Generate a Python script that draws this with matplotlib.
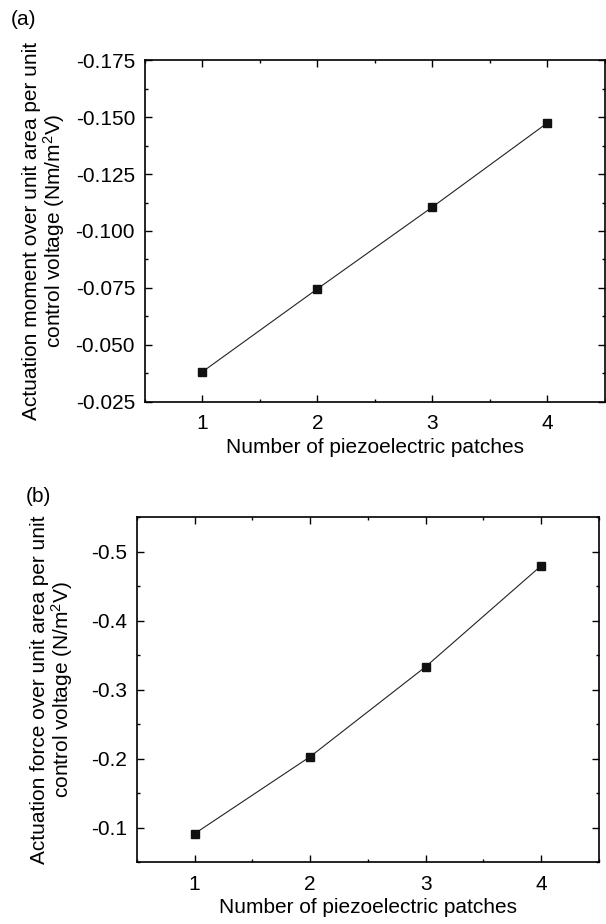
import matplotlib.pyplot as plt
from matplotlib.ticker import MultipleLocator, FormatStrFormatter

plt.rcParams["font.family"] = ["Liberation Sans", "DejaVu Sans"]
plt.rcParams["font.size"] = 15
plt.rcParams["mathtext.default"] = "regular"

patches = [1, 2, 3, 4]
moment = [-0.0382, -0.0746, -0.1105, -0.1474]
force = [-0.0913, -0.2029, -0.3333, -0.4797]

moment_label = "Actuation moment over unit area per unit\ncontrol voltage (Nm/m$^{2}$V)"
force_label = "Actuation force over unit area per unit\ncontrol voltage (N/m$^{2}$V)"
x_label = "Number of piezoelectric patches"


def style_axes(ax, major, minor, fmt):
    ax.set_xlim(0.5, 4.5)
    ax.xaxis.set_major_locator(MultipleLocator(1))
    ax.xaxis.set_minor_locator(MultipleLocator(0.5))
    ax.yaxis.set_major_locator(MultipleLocator(major))
    ax.yaxis.set_minor_locator(MultipleLocator(minor))
    ax.yaxis.set_major_formatter(FormatStrFormatter(fmt))
    ax.tick_params(which="both", direction="in", top=True, right=True, width=1.0)
    ax.tick_params(which="major", length=5)
    ax.tick_params(axis="x", which="major", pad=9)
    ax.tick_params(axis="y", which="major", pad=7)
    ax.tick_params(which="minor", length=2.5)
    for s in ax.spines.values():
        s.set_linewidth(1.2)
    ax.set_xlabel(x_label, labelpad=3)


fig = plt.figure(figsize=(6.06, 9.24), dpi=100)

ax1 = fig.add_axes([0.239, 0.565, 0.759, 0.370])
ax1.plot(patches, moment, color="#222222", lw=0.8, marker="s", ms=5.5, mfc="#111111", mec="#111111")
ax1.set_ylim(-0.025, -0.175)
style_axes(ax1, 0.025, 0.0125, "%.3f")
ax1.set_ylabel(moment_label, labelpad=6, linespacing=1.0)
fig.text(0.017, 0.973, "(a)")

ax2 = fig.add_axes([0.226, 0.067, 0.762, 0.373])
ax2.plot(patches, force, color="#222222", lw=0.8, marker="s", ms=5.5, mfc="#111111", mec="#111111")
ax2.set_ylim(-0.05, -0.55)
style_axes(ax2, 0.1, 0.05, "%.1f")
ax2.set_ylabel(force_label, labelpad=12, linespacing=1.0)
fig.text(0.042, 0.457, "(b)")

fig.savefig("out.png", dpi=100)
